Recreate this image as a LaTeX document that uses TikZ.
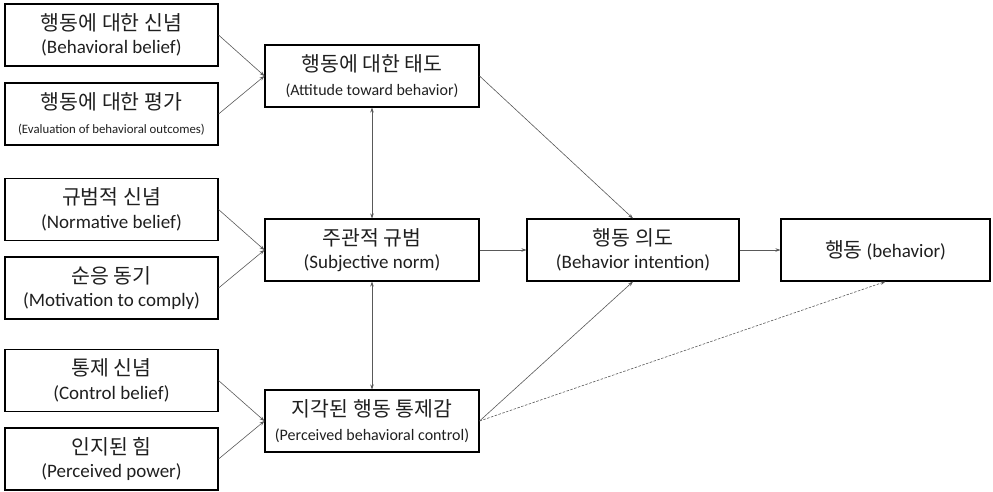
\documentclass[tikz,border=0pt]{standalone}
\usepackage{fontspec}
\setmainfont{Carlito}
\newfontfamily\kr{Noto Sans CJK KR}
\usetikzlibrary{arrows.meta}
\newcommand{\kt}[1]{{\kr\fontsize{20.5}{24}\selectfont #1}}
\newcommand{\et}[1]{{\fontsize{19}{24}\selectfont #1}}
\newcommand{\es}[1]{{\fontsize{16}{24}\selectfont #1}}
\newcommand{\ess}[1]{{\fontsize{12.8}{24}\selectfont #1}}
\begin{document}
\begin{tikzpicture}[x=1pt,y=-1pt,
  box/.style={draw=black,line width=1.1pt,inner sep=0pt,align=center,minimum width=213pt,minimum height=62pt,text=black!88,font=\fontsize{17}{23.5}\selectfont},
  conn/.style={draw=black!65,line width=0.6pt,-{Stealth[length=5pt,width=3.5pt]}},
  bconn/.style={draw=black!65,line width=0.6pt,{Stealth[length=5pt,width=3.5pt]}-{Stealth[length=5pt,width=3.5pt]}},
  dconn/.style={conn,dash pattern=on 2.5pt off 1.5pt}]
\useasboundingbox (0,0) rectangle (993,491);
\node[box] (b1) at (111.5,35) {\kt{행동에 대한 신념}\\\et{(Behavioral belief)}};
\node[box] (b2) at (111.5,114) {\kt{행동에 대한 평가}\\\ess{(Evaluation of behavioral outcomes)}};
\node[box] (b3) at (111.5,209.5) {\kt{규범적 신념}\\\et{(Normative belief)}};
\node[box] (b4) at (111.5,288) {\kt{순응 동기}\\\et{(Motivation to comply)}};
\node[box] (b5) at (111.5,380.5) {\kt{통제 신념}\\\et{(Control belief)}};
\node[box] (b6) at (111.5,459) {\kt{인지된 힘}\\\et{(Perceived power)}};
\node[box,minimum width=214pt] (att) at (372,76) {\kt{행동에 대한 태도}\\\es{(Attitude toward behavior)}};
\node[box,minimum width=214pt] (sub) at (372,250) {\kt{주관적 규범}\\\et{(Subjective norm)}};
\node[box,minimum width=214pt] (pbc) at (372,421) {\kt{지각된 행동 통제감}\\\es{(Perceived behavioral control)}};
\node[box,minimum width=212pt] (int) at (633,250) {\kt{행동 의도}\\\et{(Behavior intention)}};
\node[box,minimum width=209pt] (beh) at (885.5,250) {\kt{행동} \et{(behavior)}};
\draw[conn] (b1.east) -- (att.west);
\draw[conn] (b2.east) -- (att.west);
\draw[conn] (b3.east) -- (sub.west);
\draw[conn] (b4.east) -- (sub.west);
\draw[conn] (b5.east) -- (pbc.west);
\draw[conn] (b6.east) -- (pbc.west);
\draw[bconn] (att.south) -- (sub.north);
\draw[bconn] (sub.south) -- (pbc.north);
\draw[conn] (att.east) -- (int.north);
\draw[conn] (sub.east) -- (int.west);
\draw[conn] (pbc.east) -- (int.south);
\draw[dconn] (pbc.east) -- (beh.south);
\draw[conn] (int.east) -- (beh.west);
\end{tikzpicture}
\end{document}
